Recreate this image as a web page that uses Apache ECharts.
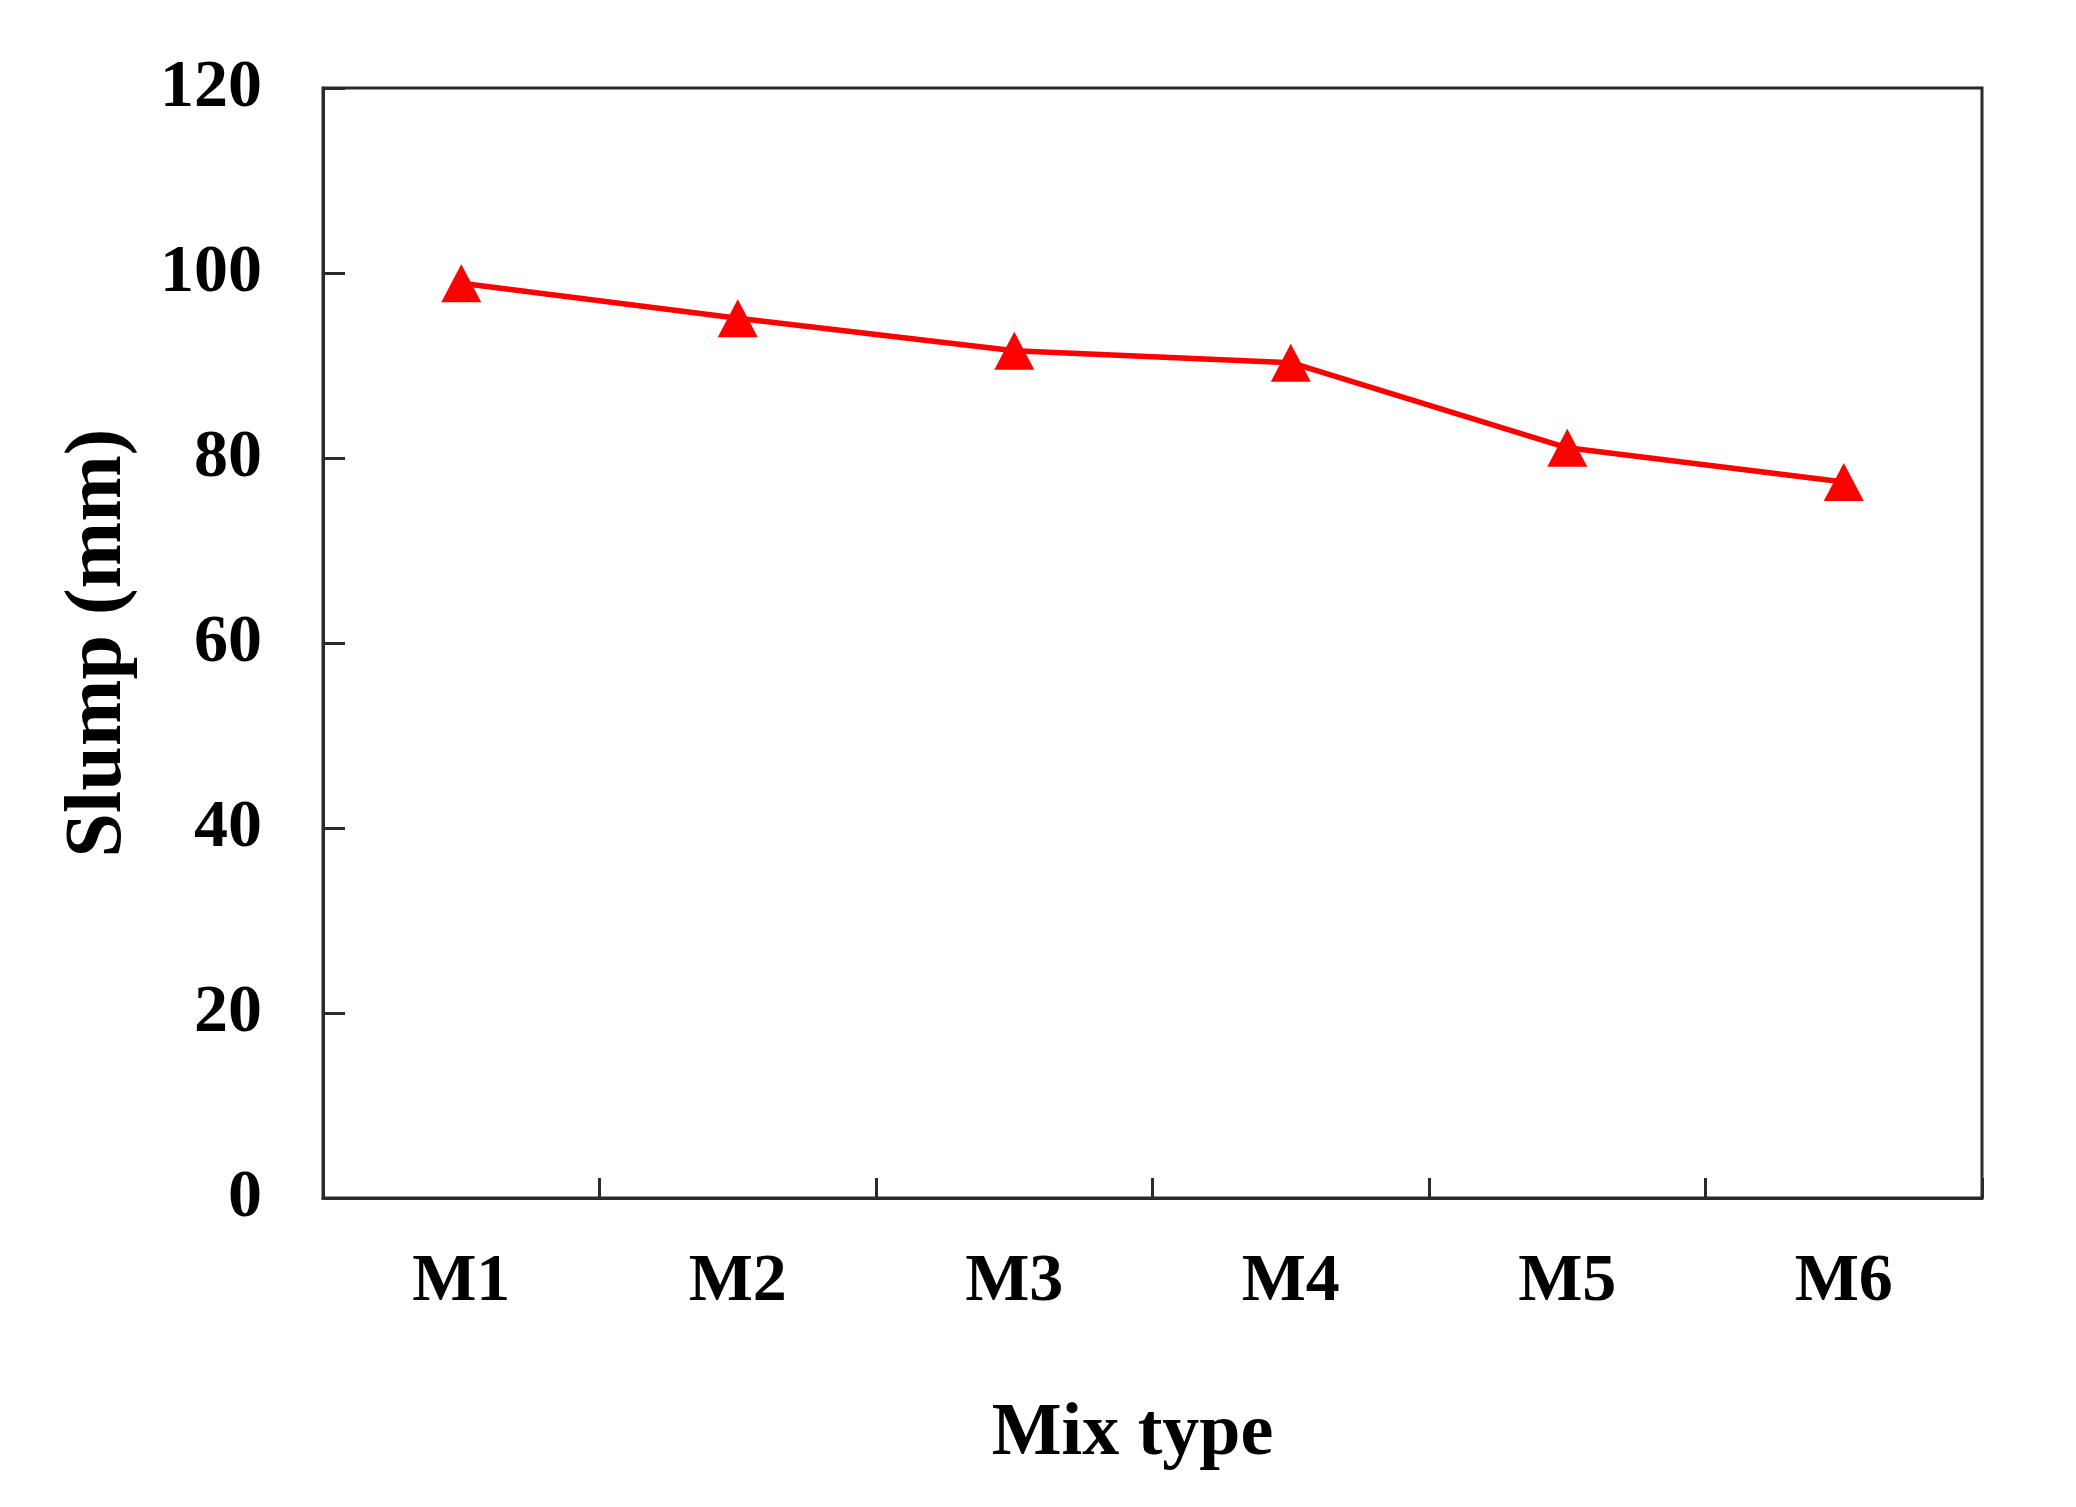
<!DOCTYPE html>
<html>
<head>
<meta charset="utf-8">
<script src="https://cdn.jsdelivr.net/npm/echarts@6/dist/echarts.min.js"></script>
<style>
html,body{margin:0;padding:0;background:#fff;}
#chart{width:2076px;height:1507px;}
</style>
</head>
<body>
<div id="chart"></div>
<script>
const categories = ['M1', 'M2', 'M3', 'M4', 'M5', 'M6'];
const slumpValues = [98.9, 95.1, 91.6, 90.3, 81.1, 77.4];
const yTicks = { min: 0, max: 120, interval: 20 };

const FONT = '"Liberation Serif", "Times New Roman", serif';
const chart = echarts.init(document.getElementById('chart'), null, { renderer: 'canvas' });
chart.setOption({
  backgroundColor: '#ffffff',
  animation: false,
  grid: {
    left: 323, top: 88, right: 94, bottom: 309,
    show: true, borderColor: '#2a2a2a', borderWidth: 3, backgroundColor: 'transparent'
  },
  xAxis: {
    type: 'category',
    data: categories,
    boundaryGap: true,
    name: 'Mix type',
    nameLocation: 'middle',
    nameGap: 200,
    nameTextStyle: { fontFamily: FONT, fontWeight: 'bold', fontSize: 74, color: '#000', padding: [0, 40, 0, 0] },
    axisLine: { show: true, lineStyle: { color: '#2a2a2a', width: 3 } },
    axisTick: { show: true, inside: true, length: 20, alignWithLabel: false, lineStyle: { color: '#2a2a2a', width: 3 } },
    axisLabel: { fontFamily: FONT, fontWeight: 'bold', fontSize: 68, color: '#000', margin: 50 },
    splitLine: { show: false }
  },
  yAxis: {
    type: 'value',
    min: yTicks.min, max: yTicks.max, interval: yTicks.interval,
    name: 'Slump (mm)',
    nameLocation: 'middle',
    nameGap: 184,
    nameRotate: 90,
    nameTextStyle: { fontFamily: FONT, fontWeight: 'bold', fontSize: 80, color: '#000' },
    axisLine: { show: true, lineStyle: { color: '#2a2a2a', width: 3 } },
    axisTick: { show: true, inside: true, length: 22, lineStyle: { color: '#2a2a2a', width: 3 } },
    axisLabel: { fontFamily: FONT, fontWeight: 'bold', fontSize: 68, color: '#000', margin: 61 },
    splitLine: { show: false }
  },
  series: [{
    type: 'line',
    data: slumpValues,
    symbol: 'triangle',
    symbolSize: [40, 38],
    lineStyle: { color: '#ff0000', width: 5.5 },
    itemStyle: { color: '#ff0000' },
    z: 3
  }]
});
</script>
</body>
</html>
